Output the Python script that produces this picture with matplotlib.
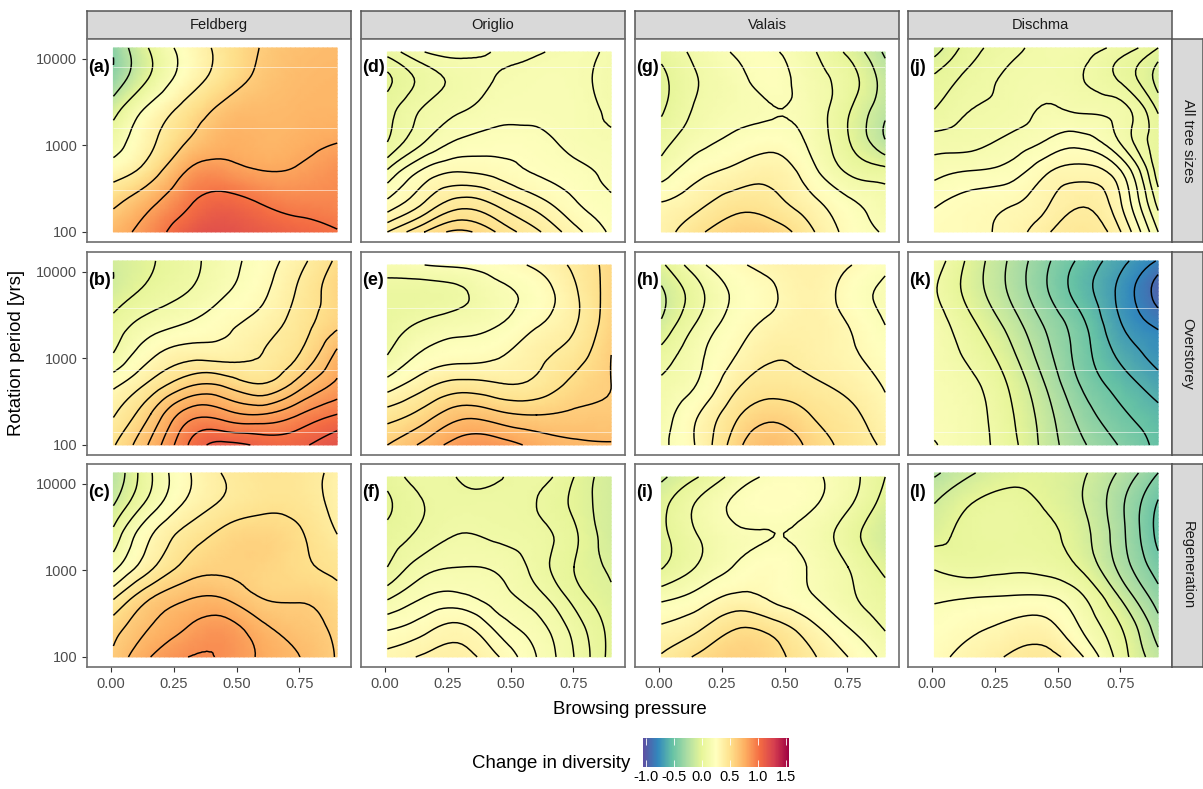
import matplotlib
matplotlib.use('Agg')
import matplotlib.pyplot as plt
import matplotlib.tri as mtri
import numpy as np
from matplotlib.cm import ScalarMappable
from matplotlib.colors import Normalize

plt.rcParams['font.family'] = ['Liberation Sans', 'DejaVu Sans']

W, H = 1203, 789

sites = ['Feldberg', 'Origlio', 'Valais', 'Dischma']
tree_sizes = ['All tree sizes', 'Overstorey', 'Regeneration']
panel_labels = ['(a)', '(b)', '(c)', '(d)', '(e)', '(f)', '(g)', '(h)', '(i)', '(j)', '(k)', '(l)']

browsing = [0.01, 0.158, 0.307, 0.455, 0.603, 0.752, 0.90]

# change in diversity, rows run from the longest rotation period down to 100 yrs
feldberg_all = [[-0.38, 0.02, 0.28, 0.47, 0.61, 0.68, 0.70],
                [-0.35, 0.02, 0.30, 0.50, 0.64, 0.70, 0.72],
                [-0.08, 0.25, 0.47, 0.65, 0.70, 0.72, 0.73],
                [0.10, 0.36, 0.60, 0.74, 0.73, 0.75, 0.79],
                [0.30, 0.50, 0.81, 0.86, 0.80, 0.82, 0.88],
                [0.55, 0.75, 0.97, 1.06, 0.98, 0.93, 0.92],
                [0.72, 0.90, 1.12, 1.18, 1.12, 1.07, 1.01]]
feldberg_over = [[-0.09, -0.01, 0.07, 0.16, 0.25, 0.37, 0.52],
                 [-0.08, 0.03, 0.10, 0.19, 0.28, 0.42, 0.56],
                 [0.03, 0.14, 0.20, 0.27, 0.34, 0.45, 0.57],
                 [0.10, 0.27, 0.35, 0.35, 0.40, 0.50, 0.72],
                 [0.27, 0.42, 0.57, 0.57, 0.50, 0.65, 0.82],
                 [0.39, 0.60, 0.85, 0.84, 0.80, 0.90, 1.00],
                 [0.49, 0.72, 1.00, 1.13, 1.08, 1.08, 1.17]]
feldberg_regen = [[-0.20, 0.09, 0.29, 0.41, 0.46, 0.45, 0.36],
                  [-0.11, 0.14, 0.32, 0.42, 0.47, 0.46, 0.36],
                  [0.03, 0.29, 0.44, 0.53, 0.56, 0.51, 0.40],
                  [0.16, 0.37, 0.53, 0.58, 0.57, 0.52, 0.47],
                  [0.37, 0.58, 0.68, 0.68, 0.59, 0.58, 0.53],
                  [0.55, 0.70, 0.80, 0.84, 0.72, 0.65, 0.57],
                  [0.62, 0.80, 0.90, 0.88, 0.78, 0.70, 0.59]]
origlio_all = [[0.07, 0.15, 0.165, 0.145, 0.145, 0.16, 0.14],
               [-0.01, 0.07, 0.12, 0.155, 0.17, 0.165, 0.13],
               [0.03, 0.11, 0.15, 0.18, 0.18, 0.17, 0.14],
               [0.05, 0.15, 0.21, 0.225, 0.22, 0.18, 0.16],
               [0.16, 0.265, 0.30, 0.28, 0.245, 0.22, 0.18],
               [0.26, 0.35, 0.42, 0.38, 0.32, 0.255, 0.21],
               [0.40, 0.50, 0.56, 0.49, 0.41, 0.32, 0.24]]
origlio_over = [[0.16, 0.20, 0.22, 0.26, 0.32, 0.42, 0.54],
                [0.05, 0.05, 0.085, 0.17, 0.24, 0.38, 0.55],
                [0.05, 0.12, 0.16, 0.20, 0.29, 0.39, 0.57],
                [0.10, 0.22, 0.26, 0.29, 0.37, 0.45, 0.60],
                [0.25, 0.37, 0.44, 0.41, 0.43, 0.53, 0.60],
                [0.45, 0.55, 0.67, 0.63, 0.60, 0.62, 0.63],
                [0.60, 0.73, 0.85, 0.85, 0.77, 0.72, 0.71]]
origlio_regen = [[0.02, 0.07, 0.044, 0.046, 0.07, 0.00, -0.09],
                 [-0.01, 0.05, 0.07, 0.07, 0.05, -0.01, -0.09],
                 [0.02, 0.07, 0.105, 0.09, 0.07, 0.01, -0.09],
                 [0.05, 0.13, 0.15, 0.14, 0.08, 0.00, -0.06],
                 [0.14, 0.20, 0.21, 0.17, 0.12, 0.03, -0.04],
                 [0.24, 0.28, 0.31, 0.23, 0.17, 0.08, -0.02],
                 [0.32, 0.36, 0.37, 0.30, 0.20, 0.10, -0.02]]
valais_all = [[0.03, 0.13, 0.21, 0.21, 0.12, -0.02, -0.22],
              [-0.03, 0.10, 0.17, 0.225, 0.15, 0.05, -0.15],
              [-0.01, 0.12, 0.17, 0.197, 0.16, 0.01, -0.18],
              [0.07, 0.17, 0.23, 0.26, 0.18, 0.01, -0.19],
              [0.15, 0.27, 0.33, 0.36, 0.24, 0.09, 0.04],
              [0.30, 0.37, 0.45, 0.43, 0.33, 0.22, 0.14],
              [0.35, 0.48, 0.57, 0.56, 0.42, 0.27, 0.19]]
valais_over = [[-0.02, 0.17, 0.28, 0.34, 0.36, 0.31, 0.22],
               [-0.12, 0.07, 0.22, 0.29, 0.35, 0.26, 0.18],
               [-0.08, 0.12, 0.25, 0.33, 0.36, 0.30, 0.20],
               [0.04, 0.18, 0.30, 0.39, 0.37, 0.32, 0.25],
               [0.12, 0.21, 0.38, 0.45, 0.42, 0.37, 0.29],
               [0.15, 0.30, 0.48, 0.57, 0.50, 0.43, 0.33],
               [0.18, 0.32, 0.56, 0.68, 0.57, 0.47, 0.38]]
valais_regen = [[-0.12, 0.00, 0.14, 0.22, 0.22, 0.14, 0.00],
                [-0.03, 0.12, 0.22, 0.25, 0.21, 0.11, -0.05],
                [-0.03, 0.10, 0.18, 0.20, 0.16, 0.05, -0.09],
                [-0.01, 0.11, 0.21, 0.26, 0.19, 0.10, -0.03],
                [0.17, 0.24, 0.32, 0.28, 0.21, 0.12, 0.04],
                [0.31, 0.38, 0.49, 0.45, 0.33, 0.20, 0.09],
                [0.41, 0.52, 0.59, 0.54, 0.42, 0.30, 0.17]]
dischma_all = [[-0.08, 0.03, 0.08, 0.12, 0.12, 0.08, 0.00],
               [0.01, 0.07, 0.11, 0.125, 0.10, 0.04, -0.07],
               [0.05, 0.10, 0.12, 0.155, 0.14, 0.12, -0.01],
               [0.12, 0.13, 0.16, 0.20, 0.22, 0.14, 0.02],
               [0.18, 0.20, 0.22, 0.29, 0.32, 0.25, 0.02],
               [0.24, 0.27, 0.29, 0.34, 0.39, 0.30, 0.08],
               [0.27, 0.285, 0.32, 0.39, 0.44, 0.35, 0.15]]
dischma_over = [[0.16, -0.035, -0.21, -0.38, -0.53, -0.67, -0.81],
                [0.11, -0.044, -0.21, -0.39, -0.56, -0.73, -0.95],
                [0.15, 0.015, -0.14, -0.32, -0.49, -0.70, -0.83],
                [0.16, 0.07, -0.07, -0.27, -0.46, -0.63, -0.74],
                [0.17, 0.12, -0.01, -0.21, -0.42, -0.55, -0.66],
                [0.18, 0.14, 0.02, -0.16, -0.35, -0.48, -0.57],
                [0.205, 0.14, 0.04, -0.14, -0.29, -0.41, -0.53]]
dischma_regen = [[-0.22, -0.11, -0.04, -0.03, -0.09, -0.22, -0.40],
                 [-0.10, 0.00, 0.03, -0.01, -0.10, -0.28, -0.51],
                 [-0.04, 0.03, 0.04, 0.02, -0.07, -0.27, -0.53],
                 [0.08, 0.05, 0.07, 0.06, -0.03, -0.24, -0.46],
                 [0.18, 0.19, 0.20, 0.20, 0.10, -0.12, -0.36],
                 [0.24, 0.28, 0.32, 0.33, 0.18, 0.00, -0.26],
                 [0.27, 0.34, 0.41, 0.43, 0.30, 0.05, -0.17]]

# each facet got its own contour spacing in the original
panels = [feldberg_all, feldberg_over, feldberg_regen,
          origlio_all, origlio_over, origlio_regen,
          valais_all, valais_over, valais_regen,
          dischma_all, dischma_over, dischma_regen]
contour_steps = [0.2, 0.1, 0.1, 0.05, 0.1, 0.05, 0.1, 0.1, 0.1, 0.05, 0.1, 0.1]
top_periods = [4.127, 4.127, 4.127, 4.08, 4.08, 4.08, 4.08, 4.08, 4.08, 4.127, 4.127, 4.127]

seam_rows = [[3.91, 3.20, 2.49], [3.58, 2.87, 2.15], []]

col_left = [87, 361, 635, 908]
row_top = [39, 252, 464]
panel_w, panel_h = 265, 203

norm = Normalize(-1.05, 1.55)
cmap = plt.get_cmap('Spectral_r')


def add_px_axes(fig, left, top, width, height):
    return fig.add_axes([left / W, 1 - (top + height) / H, width / W, height / H])


def draw_strip(fig, left, top, width, height, text, rotation=0):
    ax = add_px_axes(fig, left, top, width, height)
    ax.set_xticks([])
    ax.set_yticks([])
    ax.set_facecolor('#d9d9d9')
    for s in ax.spines.values():
        s.set_color('#555555')
        s.set_linewidth(1.1)
    ax.text(0.5, 0.5, text, transform=ax.transAxes, ha='center', va='center',
            rotation=rotation, fontsize=10.5, color='#1a1a1a')


fig = plt.figure(figsize=(W / 100, H / 100), dpi=100)

for c, left in enumerate(col_left):
    draw_strip(fig, left, 11, panel_w - 1, 28, sites[c])
    for r, top in enumerate(row_top):
        i = c * 3 + r
        ax = add_px_axes(fig, left, top, panel_w - 1, panel_h)

        # smooth the read grid for drawing, the library does the refining
        xx, yy = np.meshgrid(browsing, np.linspace(top_periods[i], 2, 7))
        z = np.array(panels[i], dtype=float)
        grid = mtri.Triangulation(xx.ravel(), yy.ravel())
        fine, fine_z = mtri.UniformTriRefiner(grid).refine_field(z.ravel(), subdiv=3)

        ax.tripcolor(fine, fine_z, shading='gouraud', cmap=cmap, norm=norm)
        step = contour_steps[i]
        levels = np.arange(-30, 31) * step
        ax.tricontour(fine, fine_z, levels=levels, colors='black', linewidths=1.05,
                      linestyles='solid')
        for y in seam_rows[r]:
            ax.hlines(y, browsing[0], browsing[-1], color='white', lw=0.7, alpha=0.55)

        ax.set_xlim(-0.095, 0.955)
        ax.set_ylim(1.884, 4.23)
        ax.set_xticks([0, 0.25, 0.5, 0.75])
        ax.set_yticks([2, 3, 4])
        ax.tick_params(length=3.5, width=0.8, color='#333333', labelcolor='#4d4d4d', labelsize=10.5)
        if r == 2:
            ax.set_xticklabels(['0.00', '0.25', '0.50', '0.75'])
        else:
            ax.tick_params(bottom=False, labelbottom=False)
        if c == 0:
            ax.set_yticklabels(['100', '1000', '10000'])
        else:
            ax.tick_params(left=False, labelleft=False)
        for s in ax.spines.values():
            s.set_color('#6e6e6e')
            s.set_linewidth(1.2)
        ax.text(-0.09, 3.9, panel_labels[i], fontsize=13, fontweight='bold', color='black',
                ha='left', va='center')

for r, top in enumerate(row_top):
    draw_strip(fig, 1172, top, 31, panel_h, tree_sizes[r], rotation=-90)

fig.text(630 / W, 1 - 709 / H, 'Browsing pressure', ha='center', va='center', fontsize=13.4, color='black')
fig.text(17 / W, 1 - 353 / H, 'Rotation period [yrs]', ha='center', va='center', rotation=90,
         fontsize=13.4, color='black')
fig.text(630 / W, 1 - 763 / H, 'Change in diversity', ha='right', va='center', fontsize=13.4, color='black')

cax = add_px_axes(fig, 643, 738, 146, 29)
cb = fig.colorbar(ScalarMappable(norm=norm, cmap=cmap), cax=cax, orientation='horizontal')
cb.set_ticks([-1.0, -0.5, 0.0, 0.5, 1.0, 1.5])
cb.ax.set_xticklabels(['-1.0', '-0.5', '0.0', '0.5', '1.0', '1.5'])
cb.outline.set_visible(False)
cax.tick_params(axis='x', direction='in', length=5, width=0.6, color='white', top=True,
                labelsize=10.5, labelcolor='black', pad=2)

fig.savefig('out.png', dpi=100)
